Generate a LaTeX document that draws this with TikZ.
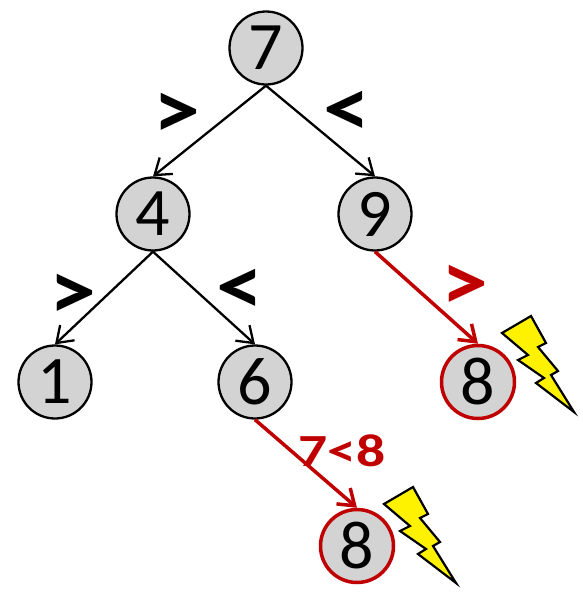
\documentclass[tikz,border=0pt]{standalone}
\usepackage{fontspec}
\setmainfont{Carlito}
\usetikzlibrary{arrows.meta}
\definecolor{nodegray}{RGB}{211,211,211}
\definecolor{alertred}{RGB}{192,0,0}
\tikzset{
  treenode/.style={circle,draw=black,line width=2.3pt,fill=nodegray,minimum size=73pt,inner sep=0pt,font=\fontsize{68}{68}\selectfont},
  alertnode/.style={treenode,draw=alertred,line width=3.5pt},
  edge/.style={draw=black,line width=2.3pt,-{Straight Barb[length=15pt,width=21pt,line width=2.3pt]}},
  alertedge/.style={draw=alertred,line width=3.5pt,-{Straight Barb[length=15pt,width=21pt,line width=3.5pt]}},
  cmp/.style={inner sep=0pt,xscale=1.12,font=\fontsize{84}{84}\bfseries\selectfont},
  cmpred/.style={cmp,text=alertred},
  condlabel/.style={inner sep=0pt,text=alertred,xscale=1.25,font=\fontsize{46}{46}\bfseries\selectfont},
  bolt/.style={draw=black,line width=2.2pt,fill=yellow,miter limit=10}
}
\newcommand{\myboltshape}{(502,333) -- (531,316) -- (546,343) -- (538,347) -- (558,371) -- (551,375) -- (574,412) -- (536,383) -- (544,378) -- (518,360) -- (528,355) -- cycle}
\begin{document}
\begin{tikzpicture}[x=1pt,y=-1pt]
\useasboundingbox (0,0) rectangle (583,592);
\node[treenode] (n7) at (266,48) {7};
\node[treenode] (n4) at (153,214) {4};
\node[treenode] (n9) at (375,214) {9};
\node[treenode] (n1) at (55,382) {1};
\node[treenode] (n6) at (255,382) {6};
\node[alertnode] (a8) at (478,382) {8};
\node[alertnode] (b8) at (357,546) {8};
\draw[edge] (n7.south) -- (n4.north);
\draw[edge] (n7.south) -- (n9.north);
\draw[edge] (n4.south) -- (n1.north);
\draw[edge] (n4.south) -- (n6.north);
\draw[alertedge] (n9.south) -- (a8.north);
\draw[alertedge] (n6.south) -- (b8.north);
\node[cmp] (g1) at (177,116) {>};
\node[cmp] (l1) at (347,114) {<};
\node[cmp] (g2) at (73,297) {>};
\node[cmp] (l2) at (240,292) {<};
\node[cmpred] (g3) at (465,288) {>};
\node[condlabel] (c) at (342,451) {7<8};
\draw[bolt] \myboltshape;
\begin{scope}[xshift=-118pt,yshift=-171pt]
\draw[bolt] \myboltshape;
\end{scope}
\end{tikzpicture}
\end{document}
